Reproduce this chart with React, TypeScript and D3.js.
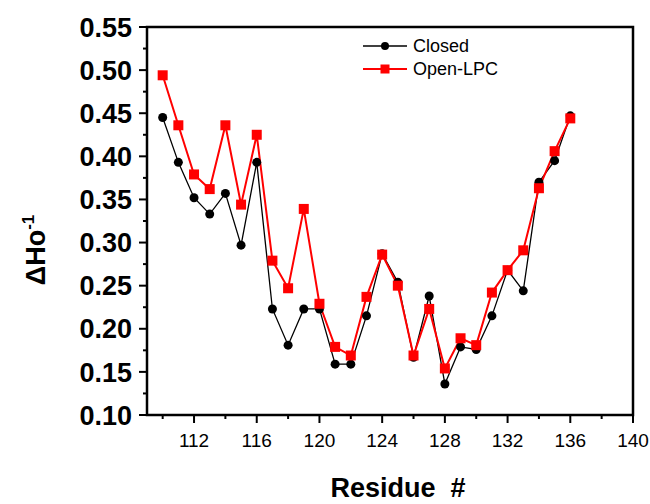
import React from 'react';
import * as d3 from 'd3';

const residues = [110, 111, 112, 113, 114, 115, 116, 117, 118, 119, 120, 121, 122, 123, 124, 125, 126, 127, 128, 129, 130, 131, 132, 133, 134, 135, 136];
const closed = [0.445, 0.393, 0.352, 0.333, 0.357, 0.297, 0.393, 0.223, 0.181, 0.223, 0.223, 0.159, 0.159, 0.215, 0.287, 0.254, 0.167, 0.238, 0.136, 0.179, 0.176, 0.215, 0.268, 0.244, 0.370, 0.395, 0.447];
const openLPC = [0.494, 0.436, 0.379, 0.362, 0.436, 0.344, 0.425, 0.279, 0.247, 0.339, 0.229, 0.179, 0.169, 0.237, 0.286, 0.250, 0.169, 0.223, 0.154, 0.189, 0.181, 0.242, 0.268, 0.291, 0.363, 0.406, 0.444];
const yTicks = [0.10, 0.15, 0.20, 0.25, 0.30, 0.35, 0.40, 0.45, 0.50, 0.55];
const xTicks = [112, 116, 120, 124, 128, 132, 136, 140];

const font = '"Liberation Sans", Arial, sans-serif';

export default function App() {
  const width = 650, height = 504;
  const left = 147, right = 633, top = 27, bottom = 415;

  const x = d3.scaleLinear().domain([109, 140]).range([left, right]);
  const y = d3.scaleLinear().domain([0.10, 0.55]).range([bottom, top]);

  const line = d3.line<number>()
    .x((d, i) => x(residues[i]))
    .y((d) => y(d));

  const yMinor = d3.range(0.125, 0.55, 0.05);
  const xMinor = d3.range(110, 140, 4);

  return (
    <div style={{ position: 'fixed', left: 0, top: 0 }}>
      <svg width={width} height={height} style={{ display: 'block', background: '#fff' }}>
        {/* y ticks */}
        {yTicks.map((t) => (
          <g key={'y' + t}>
            <line x1={left - 8} x2={left} y1={y(t)} y2={y(t)} stroke="#000" strokeWidth={2} />
            <text x={left - 15} y={y(t)} dy="0.36em" textAnchor="end" fontFamily={font}
              fontWeight="bold" fontSize={27}>{t.toFixed(2)}</text>
          </g>
        ))}
        {yMinor.map((t) => (
          <line key={'ym' + t} x1={left - 4} x2={left} y1={y(t)} y2={y(t)} stroke="#000" strokeWidth={2} />
        ))}

        {/* x ticks */}
        {xTicks.map((t) => (
          <g key={'x' + t}>
            <line x1={x(t)} x2={x(t)} y1={bottom} y2={bottom + 8} stroke="#000" strokeWidth={2} />
            <text x={x(t)} y={447} textAnchor="middle" fontFamily={font} fontSize={19}>{t}</text>
          </g>
        ))}
        {xMinor.map((t) => (
          <line key={'xm' + t} x1={x(t)} x2={x(t)} y1={bottom} y2={bottom + 4} stroke="#000" strokeWidth={2} />
        ))}

        {/* frame */}
        <rect x={left} y={top} width={right - left} height={bottom - top} fill="none" stroke="#000" strokeWidth={2.5} />

        {/* series */}
        <path d={line(closed) || ''} fill="none" stroke="#000" strokeWidth={1.3} />
        <path d={line(openLPC) || ''} fill="none" stroke="#ff0000" strokeWidth={2} />
        {closed.map((v, i) => (
          <circle key={'c' + i} cx={x(residues[i])} cy={y(v)} r={4.5} fill="#000" />
        ))}
        {openLPC.map((v, i) => (
          <rect key={'o' + i} x={x(residues[i]) - 5} y={y(v) - 5} width={10} height={10} fill="#ff0000" />
        ))}

        {/* legend */}
        <g>
          <line x1={363} x2={407} y1={46} y2={46} stroke="#000" strokeWidth={1.3} />
          <circle cx={385} cy={46} r={4} fill="#000" />
          <text x={413} y={46} dy="0.36em" fontFamily={font} fontSize={18}>Closed</text>
          <line x1={363} x2={407} y1={69} y2={69} stroke="#ff0000" strokeWidth={2} />
          <rect x={380.5} y={64.5} width={9} height={9} fill="#ff0000" />
          <text x={413} y={69} dy="0.36em" fontFamily={font} fontSize={18}>Open-LPC</text>
        </g>

        {/* axis titles */}
        <text x={398} y={497} textAnchor="middle" fontFamily={font} fontWeight="bold" fontSize={27}
          style={{ whiteSpace: 'pre' }}>{'Residue  #'}</text>
        <text transform="translate(45,250) rotate(-90)" textAnchor="middle" fontFamily={font}
          fontWeight="bold" fontSize={27}>
          ΔHo<tspan fontSize={17} dy={-11}>-1</tspan>
        </text>
      </svg>
    </div>
  );
}
